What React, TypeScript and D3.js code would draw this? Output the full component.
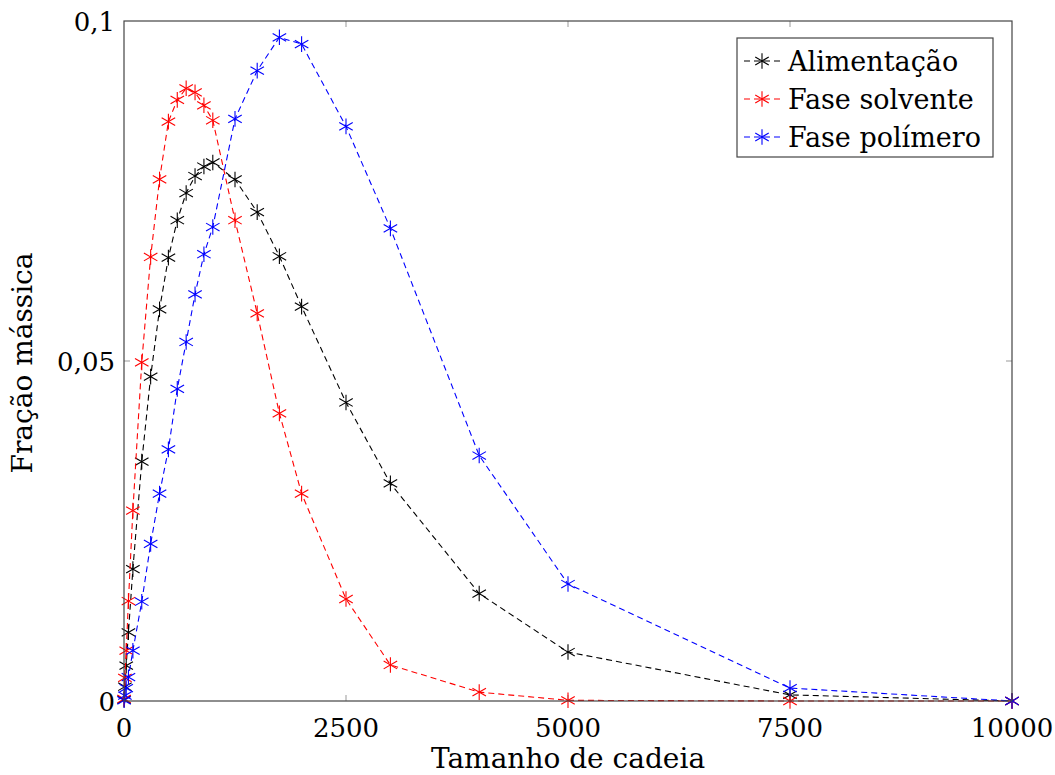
import React from "react";
import * as d3 from "d3";

const chainLength = [1, 10, 25, 50, 100, 200, 300, 400, 500, 600, 700, 800, 900, 1000, 1250, 1500, 1750, 2000, 2500, 3000, 4000, 5000, 7500, 10000];
const alimentacao = [0.0002, 0.0021, 0.0052, 0.0101, 0.0194, 0.0352, 0.0477, 0.0576, 0.0652, 0.0707, 0.0747, 0.0772, 0.0786, 0.0792, 0.0767, 0.0719, 0.0654, 0.058, 0.0439, 0.032, 0.0158, 0.0072, 0.0009, 0];
const faseSolvente = [0.0003, 0.0034, 0.0074, 0.0147, 0.028, 0.0498, 0.0653, 0.0767, 0.0852, 0.0884, 0.0901, 0.0895, 0.0876, 0.0854, 0.0707, 0.057, 0.0423, 0.0305, 0.015, 0.0053, 0.0013, 0.0001, 0, 0];
const fasePolimero = [0.0001, 0.0008, 0.0019, 0.0035, 0.0074, 0.0146, 0.0231, 0.0305, 0.037, 0.0459, 0.0528, 0.0598, 0.0657, 0.0697, 0.0856, 0.0927, 0.0976, 0.0966, 0.0845, 0.0695, 0.0361, 0.0172, 0.0019, 0];

const seriesNames = ["Alimentação", "Fase solvente", "Fase polímero"];
const seriesColors = ["#000000", "#ff0000", "#0000ff"];
const xTicks = [0, 2500, 5000, 7500, 10000];
const yTicks = [0, 0.05, 0.1];
const xLabel = "Tamanho de cadeia";
const yLabel = "Fração mássica";

const W = 1055, H = 775;
const L = 124, R = 1012, T = 21, B = 701;
const FONT = "'DejaVu Serif'";

function Star({ x, y, color, r = 7.8 }: { x: number; y: number; color: string; r?: number }) {
  const angles = [90, 30, -30];
  return (
    <g stroke={color} strokeWidth={1.1}>
      {angles.map((a) => {
        const rad = (a * Math.PI) / 180;
        const dx = r * Math.cos(rad), dy = r * Math.sin(rad);
        return <line key={a} x1={x - dx} y1={y + dy} x2={x + dx} y2={y - dy} />;
      })}
    </g>
  );
}

export default function App() {
  const x = d3.scaleLinear().domain([0, 10000]).range([L, R]);
  const y = d3.scaleLinear().domain([0, 0.1]).range([B, T]);
  const fmtY = (v: number) => (v === 0 ? "0" : String(v).replace(".", ","));
  const allSeries = [alimentacao, faseSolvente, fasePolimero];
  const line = d3.line<[number, number]>().x((d) => x(d[0])).y((d) => y(d[1]));
  const tickLen = 6;
  const frameColor = "#444";
  const ts: React.CSSProperties = { fontFamily: FONT, fontSize: 28 };
  const tickStyle: React.CSSProperties = { fontFamily: FONT, fontSize: 26 };
  const legStyle: React.CSSProperties = { fontFamily: FONT, fontSize: 27 };

  return (
    <svg width={W} height={H} style={{ position: "absolute", left: 0, top: 0, background: "#fff", fontFamily: FONT }}>
      <rect x={0} y={0} width={W} height={H} fill="#fff" />
      {xTicks.slice(1, -1).map((t) => (
        <g key={"xt" + t} stroke="#999" strokeWidth={1}>
          <line x1={x(t)} x2={x(t)} y1={B} y2={B - tickLen} />
          <line x1={x(t)} x2={x(t)} y1={T} y2={T + tickLen} />
        </g>
      ))}
      {yTicks.slice(1, -1).map((t) => (
        <g key={"yt" + t} stroke="#999" strokeWidth={1}>
          <line x1={L} x2={L + tickLen} y1={y(t)} y2={y(t)} />
          <line x1={R} x2={R - tickLen} y1={y(t)} y2={y(t)} />
        </g>
      ))}
      {allSeries.map((s, i) => {
        const pts: [number, number][] = chainLength.map((c, j) => [c, s[j]]);
        return (
          <g key={"s" + i}>
            <path d={line(pts) || ""} fill="none" stroke={seriesColors[i]} strokeWidth={1.1} strokeDasharray="6 4" />
            {pts.map((p, j) => (
              <Star key={j} x={x(p[0])} y={y(p[1])} color={seriesColors[i]} />
            ))}
          </g>
        );
      })}
      <rect x={L} y={T} width={R - L} height={B - T} fill="none" stroke={frameColor} strokeWidth={1.2} />
      {xTicks.map((t) => (
        <text key={"xl" + t} x={x(t)} y={737} textAnchor="middle" style={tickStyle} fill="#000">
          {t}
        </text>
      ))}
      {yTicks.map((t) => (
        <text key={"yl" + t} x={115} y={y(t) + 10} textAnchor="end" style={tickStyle} fill="#000">
          {fmtY(t)}
        </text>
      ))}
      <text x={(L + R) / 2} y={768} textAnchor="middle" style={ts} fill="#000">
        {xLabel}
      </text>
      <text transform={`translate(32, ${(T + B) / 2 + 2}) rotate(-90)`} textAnchor="middle" style={ts} fill="#000">
        {yLabel}
      </text>
      <g>
        <rect x={737} y={38} width={256} height={119} fill="#fff" stroke={frameColor} strokeWidth={1.2} />
        {seriesNames.map((n, i) => {
          const cy = 61 + i * 38;
          return (
            <g key={"lg" + i}>
              <line x1={743} x2={781} y1={cy} y2={cy} stroke={seriesColors[i]} strokeWidth={1.1} strokeDasharray="6 4" strokeDashoffset={-1} />
              <Star x={762} y={cy} color={seriesColors[i]} />
              <text x={788} y={cy + 10} style={legStyle} fill="#000">
                {n}
              </text>
            </g>
          );
        })}
      </g>
    </svg>
  );
}
